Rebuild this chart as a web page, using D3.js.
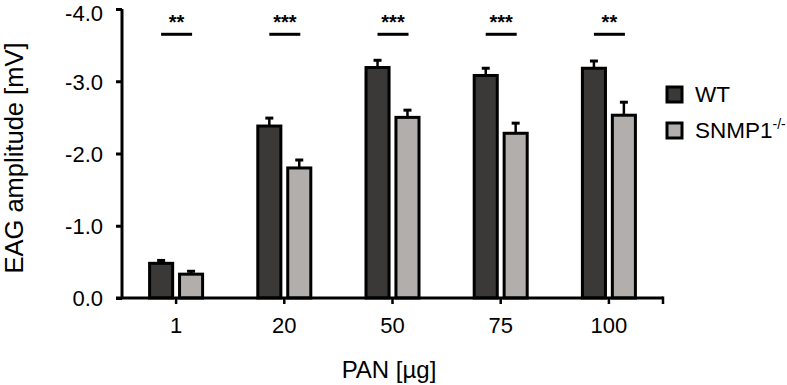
<!DOCTYPE html>
<html><head><meta charset="utf-8">
<script src="https://cdn.jsdelivr.net/npm/d3@7"></script>
<style>body{margin:0;background:#fff}svg{display:block}text{font-family:"Liberation Sans",Arial,sans-serif;fill:#000}</style>
</head><body>
<svg id="c" width="787" height="385"></svg>
<script>
const categories = ["1","20","50","75","100"];
const series = ["WT","SNMP1"];
const wtValues = [-0.48,-2.38,-3.19,-3.08,-3.18];
const wtErrors = [0.04,0.11,0.10,0.10,0.10];
const snmpValues = [-0.33,-1.80,-2.50,-2.28,-2.53];
const snmpErrors = [0.04,0.11,0.10,0.14,0.18];
const significance = ["**","***","***","***","**"];
const yTicks = [0,-1,-2,-3,-4];
const colors = {WT:"#3b3937", SNMP1:"#b1aeac"};

const svg = d3.select("#c");
const x0 = d3.scaleBand().domain(categories).range([122,663]);
const x1 = d3.scaleBand().domain(series).range([-26.5,26.5]).paddingInner(0.23);
const y = d3.scaleLinear().domain([0,-4]).range([298,9]);

const rows = categories.map((c,i)=>({c, vals:[
  {s:"WT", v:wtValues[i], e:wtErrors[i]},
  {s:"SNMP1", v:snmpValues[i], e:snmpErrors[i]}
], sig:significance[i]}));

const g = svg.append("g");
const grp = g.selectAll("g.cat").data(rows).join("g")
  .attr("transform", d=>`translate(${x0(d.c)+x0.bandwidth()/2},0)`);

// error bars
grp.selectAll("g.err").data(d=>d.vals).join("g").each(function(d){
  const cx = x1(d.s)+x1.bandwidth()/2;
  const s = d3.select(this);
  s.append("line").attr("x1",cx).attr("x2",cx).attr("y1",y(d.v)).attr("y2",y(d.v-d.e))
    .attr("stroke","#000").attr("stroke-width",2.5);
  s.append("line").attr("x1",cx-4).attr("x2",cx+4).attr("y1",y(d.v-d.e)).attr("y2",y(d.v-d.e))
    .attr("stroke","#000").attr("stroke-width",3);
});
grp.selectAll("rect").data(d=>d.vals).join("rect")
  .attr("x",d=>x1(d.s)).attr("width",x1.bandwidth())
  .attr("y",d=>y(d.v)).attr("height",d=>y(0)-y(d.v))
  .attr("fill",d=>colors[d.s]).attr("stroke","#000").attr("stroke-width",3);

// significance
grp.append("line").attr("x1",-15).attr("x2",16).attr("y1",y(-3.65)).attr("y2",y(-3.65))
  .attr("stroke","#000").attr("stroke-width",3);
grp.append("text").attr("x",0.5).attr("y",y(-3.65)-5).attr("text-anchor","middle")
  .attr("font-size",20).attr("font-weight","bold").text(d=>d.sig);

// axes
const fmt = v => d3.format(".1f")(v).replace("\u2212","-");
const yAxis = d3.axisLeft(y).tickValues(yTicks).tickFormat(fmt).tickSize(6).tickPadding(13);
const ya = svg.append("g").attr("transform","translate(122,0)").call(yAxis);
ya.select(".domain").attr("stroke-width",3).attr("d","M0,298V9");
ya.selectAll(".tick line").attr("stroke-width",3);
ya.selectAll(".tick text").attr("font-size",22).attr("font-family","Liberation Sans, Arial, sans-serif")
  .attr("dy",d=>d===-4 ? "0.5em" : "0.36em");

const xAxis = d3.axisBottom(x0).tickSize(6).tickPadding(12).tickSizeOuter(0);
const xa = svg.append("g").attr("transform","translate(0,298)").call(xAxis);
xa.select(".domain").attr("stroke-width",3).attr("d","M116,0H663");
xa.selectAll(".tick line").attr("stroke-width",2.5);
xa.selectAll(".tick text").attr("font-size",22).attr("font-family","Liberation Sans, Arial, sans-serif").attr("dy","0.75em");
xa.append("line").attr("x1",663).attr("x2",663).attr("y1",-1.5).attr("y2",6).attr("stroke","#000").attr("stroke-width",2.5);

svg.append("text").attr("x",389).attr("y",378).attr("text-anchor","middle").attr("font-size",24).text("PAN [µg]");
svg.append("text").attr("transform","translate(23,158) rotate(-90)").attr("text-anchor","middle").attr("font-size",25.5).text("EAG amplitude [mV]");

// legend
const leg = svg.append("g").selectAll("g").data(series).join("g")
  .attr("transform",(d,i)=>`translate(667,${87+i*36})`);
leg.append("rect").attr("width",15).attr("height",15).attr("fill",d=>colors[d]).attr("stroke","#000").attr("stroke-width",3);
const lt = leg.append("text").attr("x",28).attr("y",15).attr("font-size",22.5);
lt.append("tspan").text(d=>d);
lt.filter(d=>d==="SNMP1").append("tspan").attr("font-size",14).attr("dy",-9).text("-/-");
</script>
</body></html>
